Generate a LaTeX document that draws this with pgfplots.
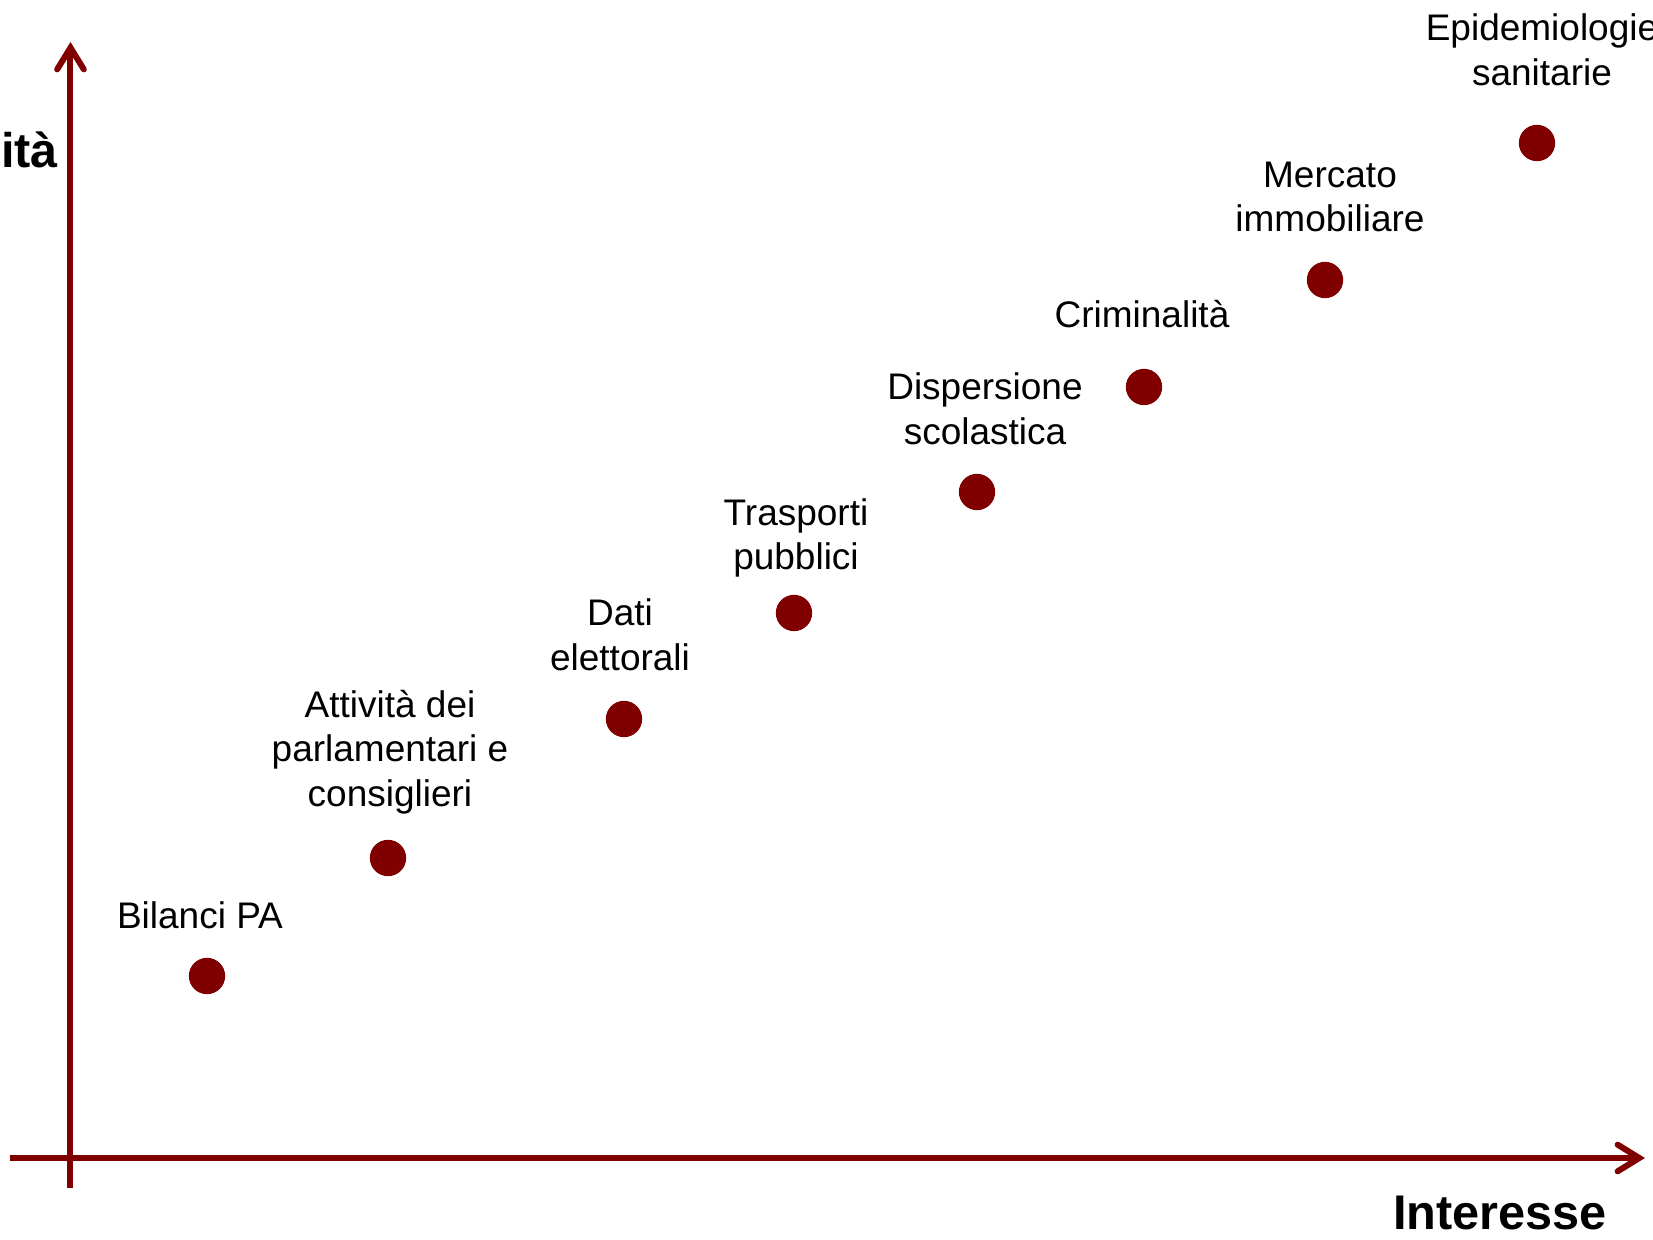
\documentclass[border=0pt]{standalone}
\usepackage{pgfplots}
\pgfplotsset{compat=1.18}
\usepackage{fontspec}
\setmainfont{Liberation Sans}
\usetikzlibrary{arrows.meta}
\definecolor{dred}{RGB}{128,0,0}
\tikzset{lbl/.style={font=\fontsize{11.1}{13.4}\selectfont, inner sep=0pt, outer sep=0pt, align=center, text=black},
  big/.style={font=\fontsize{14.6}{16}\selectfont\bfseries, inner sep=0pt, outer sep=0pt, text=black}}
\begin{document}
\begin{tikzpicture}
\path[use as bounding box, clip] (0,0) rectangle (495.9pt,372pt);
\begin{axis}[
  width=495.9pt, height=372pt, scale only axis,
  xmin=0, xmax=1653, ymin=0, ymax=1240,
  hide axis, clip=false,
]
\draw[dred, line width=1.8pt, -{Straight Barb[length=6.5pt,width=8pt,line cap=round]}] (axis cs:10,82) -- (axis cs:1645,82);
\draw[dred, line width=1.8pt, -{Straight Barb[length=6.5pt,width=8pt,line cap=round]}] (axis cs:70.5,52) -- (axis cs:70.5,1198);
\addplot[only marks, mark=*, mark size=5.25pt, color=dred, mark options={fill=dred, draw=dred}] coordinates {
 (207,264) (388,382) (624,521) (794,627) (977,748) (1144,853) (1325,960) (1537,1097)
};
\node[lbl] at (axis cs:200,325) {Bilanci PA};
\node[lbl] at (axis cs:390,488) {Attività dei\\parlamentari e\\consiglieri};
\node[lbl] at (axis cs:620,605) {Dati\\elettorali};
\node[lbl] at (axis cs:796,702) {Trasporti\\pubblici};
\node[lbl] at (axis cs:985,831) {Dispersione\\scolastica};
\node[lbl] at (axis cs:1142,926) {Criminalità};
\node[lbl] at (axis cs:1330,1043) {Mercato\\immobiliare};
\node[lbl] at (axis cs:1542,1190) {Epidemiologie\\sanitarie};
\node[big, anchor=base west] at (axis cs:1393,10) {Interesse};
\node[big, anchor=base east] at (axis cs:58,1072) {Disponibilità};
\end{axis}
\end{tikzpicture}
\end{document}
